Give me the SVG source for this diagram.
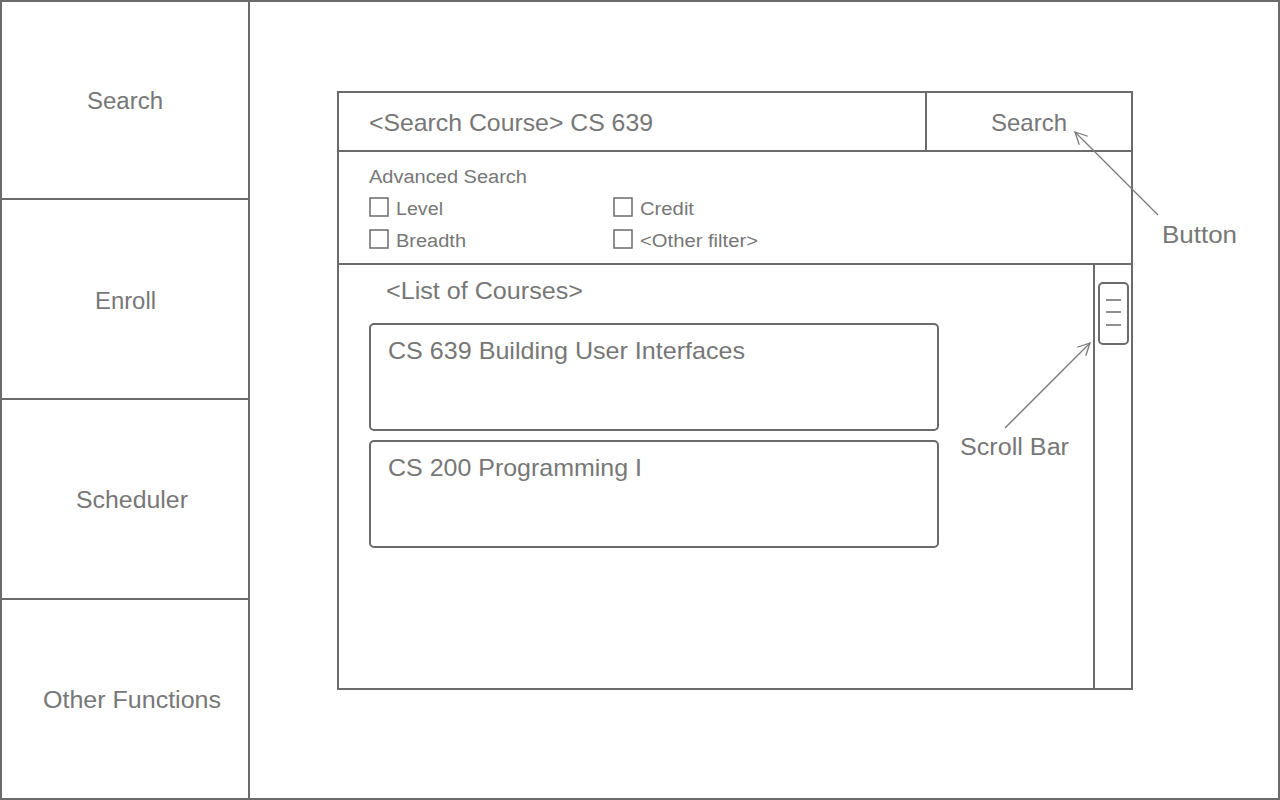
<svg xmlns="http://www.w3.org/2000/svg" width="1280" height="800" viewBox="0 0 1280 800">
<style>
.ln{stroke:#6b6b6b;stroke-width:2;fill:none}
.thin{stroke:#6b6b6b;stroke-width:1.5;fill:none}
.t{font-family:"Liberation Sans",Arial,sans-serif;fill:#777777}
.conn{stroke:#7a7a7a;stroke-width:1.3;fill:none}
</style>
<defs>
<marker id="arr" markerWidth="16" markerHeight="16" refX="13" refY="8" orient="auto" markerUnits="userSpaceOnUse">
<path d="M1,2 L13,8 L1,14" fill="none" stroke="#7a7a7a" stroke-width="1.3"/>
</marker>
</defs>
<rect x="0" y="0" width="1280" height="800" fill="#ffffff"/>
<rect x="1" y="1" width="1278" height="798" class="ln"/>
<g id="sidebar">
<line x1="249" y1="0" x2="249" y2="800" class="ln"/>
<g id="nav-search"><line x1="0" y1="199" x2="249" y2="199" class="ln"/><text x="87" y="109" class="t" font-size="23" textLength="76" lengthAdjust="spacingAndGlyphs">Search</text></g>
<g id="nav-enroll"><line x1="0" y1="399" x2="249" y2="399" class="ln"/><text x="95" y="309" class="t" font-size="23" textLength="61" lengthAdjust="spacingAndGlyphs">Enroll</text></g>
<g id="nav-scheduler"><line x1="0" y1="599" x2="249" y2="599" class="ln"/><text x="76" y="508" class="t" font-size="23" textLength="112" lengthAdjust="spacingAndGlyphs">Scheduler</text></g>
<g id="nav-other"><text x="43" y="708" class="t" font-size="23" textLength="178" lengthAdjust="spacingAndGlyphs">Other Functions</text></g>
</g>
<g id="panel">
<rect x="338" y="92" width="794" height="597" class="ln"/>
<line x1="338" y1="151" x2="1132" y2="151" class="ln"/>
<line x1="338" y1="264" x2="1132" y2="264" class="ln"/>
</g>
<g id="search-field"><text x="369" y="131" class="t" font-size="24" textLength="284" lengthAdjust="spacingAndGlyphs">&lt;Search Course&gt; CS 639</text></g>
<g id="search-button"><line x1="926" y1="92" x2="926" y2="151" class="ln"/><text x="991" y="131" class="t" font-size="24" textLength="76" lengthAdjust="spacingAndGlyphs">Search</text></g>
<g id="advanced">
<text x="369" y="183" class="t" font-size="18" textLength="158" lengthAdjust="spacingAndGlyphs">Advanced Search</text>
<rect x="370" y="198" width="18" height="18" class="thin"/><text x="396" y="215" class="t" font-size="18" textLength="47" lengthAdjust="spacingAndGlyphs">Level</text>
<rect x="614" y="198" width="18" height="18" class="thin"/><text x="640" y="215" class="t" font-size="18" textLength="54" lengthAdjust="spacingAndGlyphs">Credit</text>
<rect x="370" y="230" width="18" height="18" class="thin"/><text x="396" y="247" class="t" font-size="18" textLength="70" lengthAdjust="spacingAndGlyphs">Breadth</text>
<rect x="614" y="230" width="18" height="18" class="thin"/><text x="640" y="247" class="t" font-size="18" textLength="118" lengthAdjust="spacingAndGlyphs">&lt;Other filter&gt;</text>
</g>
<g id="list">
<text x="386" y="299" class="t" font-size="23" textLength="197" lengthAdjust="spacingAndGlyphs">&lt;List of Courses&gt;</text>
</g>
<g id="card1"><rect x="370" y="324" width="568" height="106" rx="4" class="ln"/><text x="388" y="359" class="t" font-size="24" textLength="357" lengthAdjust="spacingAndGlyphs">CS 639 Building User Interfaces</text></g>
<g id="card2"><rect x="370" y="441" width="568" height="106" rx="4" class="ln"/><text x="388" y="476" class="t" font-size="24" textLength="254" lengthAdjust="spacingAndGlyphs">CS 200 Programming I</text></g>
<g id="scrollbar">
<line x1="1094" y1="264" x2="1094" y2="689" class="ln"/>
<rect x="1099" y="283" width="29" height="61" rx="4" class="ln"/>
<line x1="1106" y1="300" x2="1121" y2="300" class="thin"/>
<line x1="1106" y1="312" x2="1121" y2="312" class="thin"/>
<line x1="1106" y1="325" x2="1121" y2="325" class="thin"/>
</g>
<g id="label-button"><text x="1162" y="243" class="t" font-size="23" textLength="75" lengthAdjust="spacingAndGlyphs">Button</text></g>
<g id="label-scroll"><text x="960" y="455" class="t" font-size="23" textLength="109" lengthAdjust="spacingAndGlyphs">Scroll Bar</text></g>
<g id="connectors">
<line x1="1158" y1="215" x2="1075" y2="132" class="conn" marker-end="url(#arr)"/>
<line x1="1005" y1="428" x2="1090" y2="343" class="conn" marker-end="url(#arr)"/>
</g>
</svg>
